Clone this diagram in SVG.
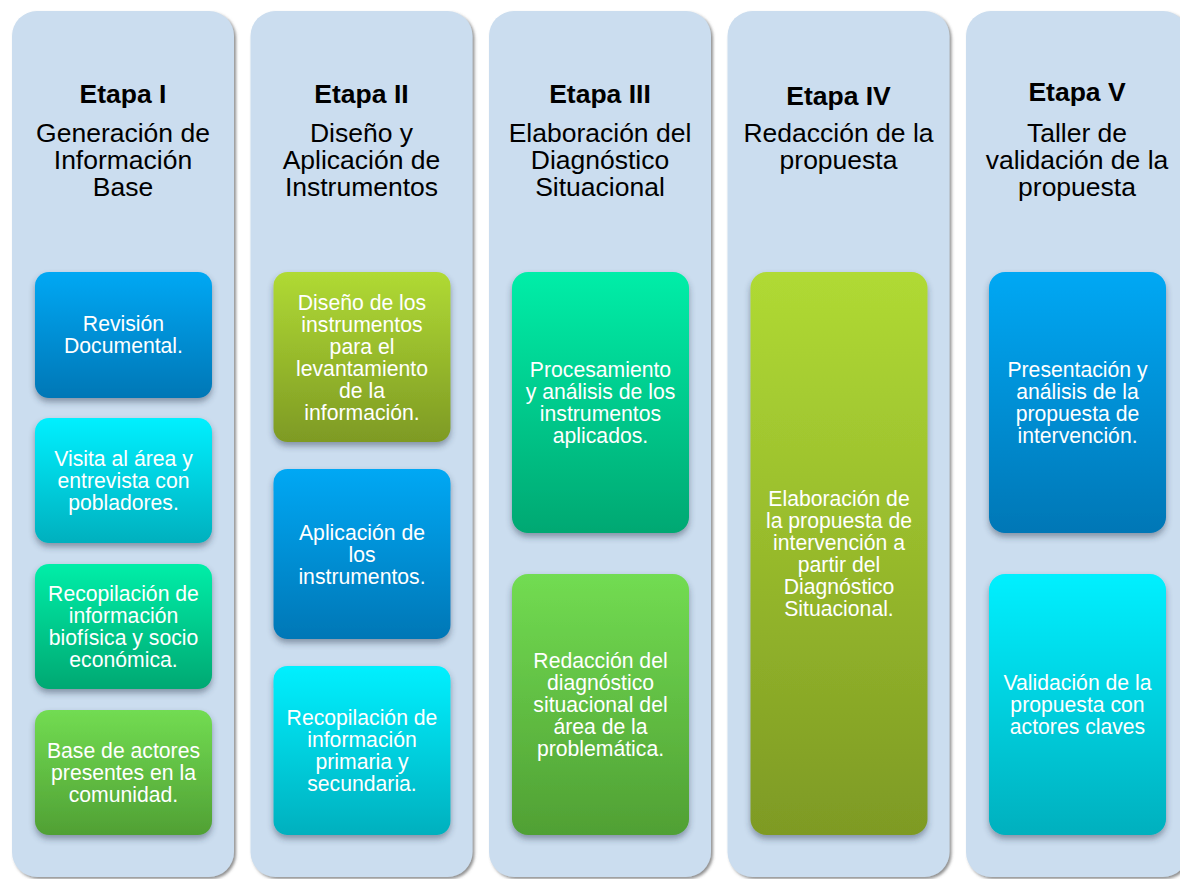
<svg xmlns="http://www.w3.org/2000/svg" width="1180" height="879" viewBox="0 0 1180 879">
<style>
.col{fill:#CBDDEF;filter:url(#colsh)}
.box{filter:url(#boxsh)}
.h{font-family:"Liberation Sans",Arial,sans-serif;font-size:26.5px;fill:#000;text-anchor:middle}
.hb{font-weight:bold}
.t{font-family:"Liberation Sans",Arial,sans-serif;font-size:21.2px;fill:#fff;text-anchor:middle}
</style>
<defs>
<filter id="colsh" x="-10%" y="-5%" width="120%" height="110%">
<feDropShadow dx="2" dy="2" stdDeviation="1.6" flood-color="#606060" flood-opacity="0.7"/>
</filter>
<filter id="boxsh" x="-10%" y="-10%" width="120%" height="125%">
<feDropShadow dx="0" dy="4" stdDeviation="3" flood-color="#2a3a50" flood-opacity="0.45"/>
</filter>
<linearGradient id="gBlue" x1="0" y1="0" x2="0" y2="1"><stop offset="0" stop-color="#00A8F4"/><stop offset="1" stop-color="#0077B6"/></linearGradient>
<linearGradient id="gCyan" x1="0" y1="0" x2="0" y2="1"><stop offset="0" stop-color="#00F0FF"/><stop offset="1" stop-color="#00B0BE"/></linearGradient>
<linearGradient id="gTeal" x1="0" y1="0" x2="0" y2="1"><stop offset="0" stop-color="#00EEA8"/><stop offset="1" stop-color="#00A872"/></linearGradient>
<linearGradient id="gGreen" x1="0" y1="0" x2="0" y2="1"><stop offset="0" stop-color="#72DC52"/><stop offset="1" stop-color="#50A034"/></linearGradient>
<linearGradient id="gOlive" x1="0" y1="0" x2="0" y2="1"><stop offset="0" stop-color="#B0DA34"/><stop offset="1" stop-color="#7E9A24"/></linearGradient>
</defs>
<rect width="1180" height="879" fill="#fff"/>

<g id="etapa1">
<rect class="col" x="12" y="11" width="222" height="866" rx="25"/>
<text class="h hb" x="123" y="103">Etapa I</text>
<text class="h" x="123" y="142">Generación de</text>
<text class="h" x="123" y="169">Información</text>
<text class="h" x="123" y="196">Base</text>
</g>
<g id="etapa2">
<rect class="col" x="250.5" y="11" width="222" height="866" rx="25"/>
<text class="h hb" x="361.5" y="103">Etapa II</text>
<text class="h" x="361.5" y="142">Diseño y</text>
<text class="h" x="361.5" y="169">Aplicación de</text>
<text class="h" x="361.5" y="196">Instrumentos</text>
</g>
<g id="etapa3">
<rect class="col" x="489" y="11" width="222" height="866" rx="25"/>
<text class="h hb" x="600" y="103">Etapa III</text>
<text class="h" x="600" y="142">Elaboración del</text>
<text class="h" x="600" y="169">Diagnóstico</text>
<text class="h" x="600" y="196">Situacional</text>
</g>
<g id="etapa4">
<rect class="col" x="727.5" y="11" width="222" height="866" rx="25"/>
<text class="h hb" x="838.5" y="105">Etapa IV</text>
<text class="h" x="838.5" y="142">Redacción de la</text>
<text class="h" x="838.5" y="169">propuesta</text>
</g>
<g id="etapa5">
<rect class="col" x="966" y="11" width="222" height="866" rx="25"/>
<text class="h hb" x="1077" y="101">Etapa V</text>
<text class="h" x="1077" y="142">Taller de</text>
<text class="h" x="1077" y="169">validación de la</text>
<text class="h" x="1077" y="196">propuesta</text>
</g>

<g id="n1a"><rect class="box" x="35" y="272" width="177" height="126" rx="14" fill="url(#gBlue)"/>
<text class="t" x="123.5" y="331">Revisión</text><text class="t" x="123.5" y="353">Documental.</text></g>
<g id="n1b"><rect class="box" x="35" y="418" width="177" height="125" rx="14" fill="url(#gCyan)"/>
<text class="t" x="123.5" y="466">Visita al área y</text><text class="t" x="123.5" y="488">entrevista con</text><text class="t" x="123.5" y="510">pobladores.</text></g>
<g id="n1c"><rect class="box" x="35" y="564" width="177" height="125" rx="14" fill="url(#gTeal)"/>
<text class="t" x="123.5" y="601">Recopilación de</text><text class="t" x="123.5" y="623">información</text><text class="t" x="123.5" y="645">biofísica y socio</text><text class="t" x="123.5" y="667">económica.</text></g>
<g id="n1d"><rect class="box" x="35" y="710" width="177" height="125" rx="14" fill="url(#gGreen)"/>
<text class="t" x="123.5" y="758">Base de actores</text><text class="t" x="123.5" y="780">presentes en la</text><text class="t" x="123.5" y="802">comunidad.</text></g>

<g id="n2a"><rect class="box" x="273.5" y="272" width="177" height="170" rx="14" fill="url(#gOlive)"/>
<text class="t" x="362" y="309.5">Diseño de los</text><text class="t" x="362" y="331.5">instrumentos</text><text class="t" x="362" y="353.5">para el</text><text class="t" x="362" y="375.5">levantamiento</text><text class="t" x="362" y="397.5">de la</text><text class="t" x="362" y="419.5">información.</text></g>
<g id="n2b"><rect class="box" x="273.5" y="469" width="177" height="170" rx="14" fill="url(#gBlue)"/>
<text class="t" x="362" y="539.5">Aplicación de</text><text class="t" x="362" y="561.5">los</text><text class="t" x="362" y="583.5">instrumentos.</text></g>
<g id="n2c"><rect class="box" x="273.5" y="666" width="177" height="169" rx="14" fill="url(#gCyan)"/>
<text class="t" x="362" y="725">Recopilación de</text><text class="t" x="362" y="747">información</text><text class="t" x="362" y="769">primaria y</text><text class="t" x="362" y="791">secundaria.</text></g>

<g id="n3a"><rect class="box" x="512" y="272" width="177" height="261" rx="16" fill="url(#gTeal)"/>
<text class="t" x="600.5" y="377">Procesamiento</text><text class="t" x="600.5" y="399">y análisis de los</text><text class="t" x="600.5" y="421">instrumentos</text><text class="t" x="600.5" y="443">aplicados.</text></g>
<g id="n3b"><rect class="box" x="512" y="574" width="177" height="261" rx="16" fill="url(#gGreen)"/>
<text class="t" x="600.5" y="668">Redacción del</text><text class="t" x="600.5" y="690">diagnóstico</text><text class="t" x="600.5" y="712">situacional del</text><text class="t" x="600.5" y="734">área de la</text><text class="t" x="600.5" y="756">problemática.</text></g>

<g id="n4a"><rect class="box" x="750.5" y="272" width="177" height="563" rx="16" fill="url(#gOlive)"/>
<text class="t" x="839" y="506">Elaboración de</text><text class="t" x="839" y="528">la propuesta de</text><text class="t" x="839" y="550">intervención a</text><text class="t" x="839" y="572">partir del</text><text class="t" x="839" y="594">Diagnóstico</text><text class="t" x="839" y="616">Situacional.</text></g>

<g id="n5a"><rect class="box" x="989" y="272" width="177" height="261" rx="16" fill="url(#gBlue)"/>
<text class="t" x="1077.5" y="377">Presentación y</text><text class="t" x="1077.5" y="399">análisis de la</text><text class="t" x="1077.5" y="421">propuesta de</text><text class="t" x="1077.5" y="443">intervención.</text></g>
<g id="n5b"><rect class="box" x="989" y="574" width="177" height="261" rx="16" fill="url(#gCyan)"/>
<text class="t" x="1077.5" y="690">Validación de la</text><text class="t" x="1077.5" y="712">propuesta con</text><text class="t" x="1077.5" y="734">actores claves</text></g>

<g id="connectors"></g>
</svg>
